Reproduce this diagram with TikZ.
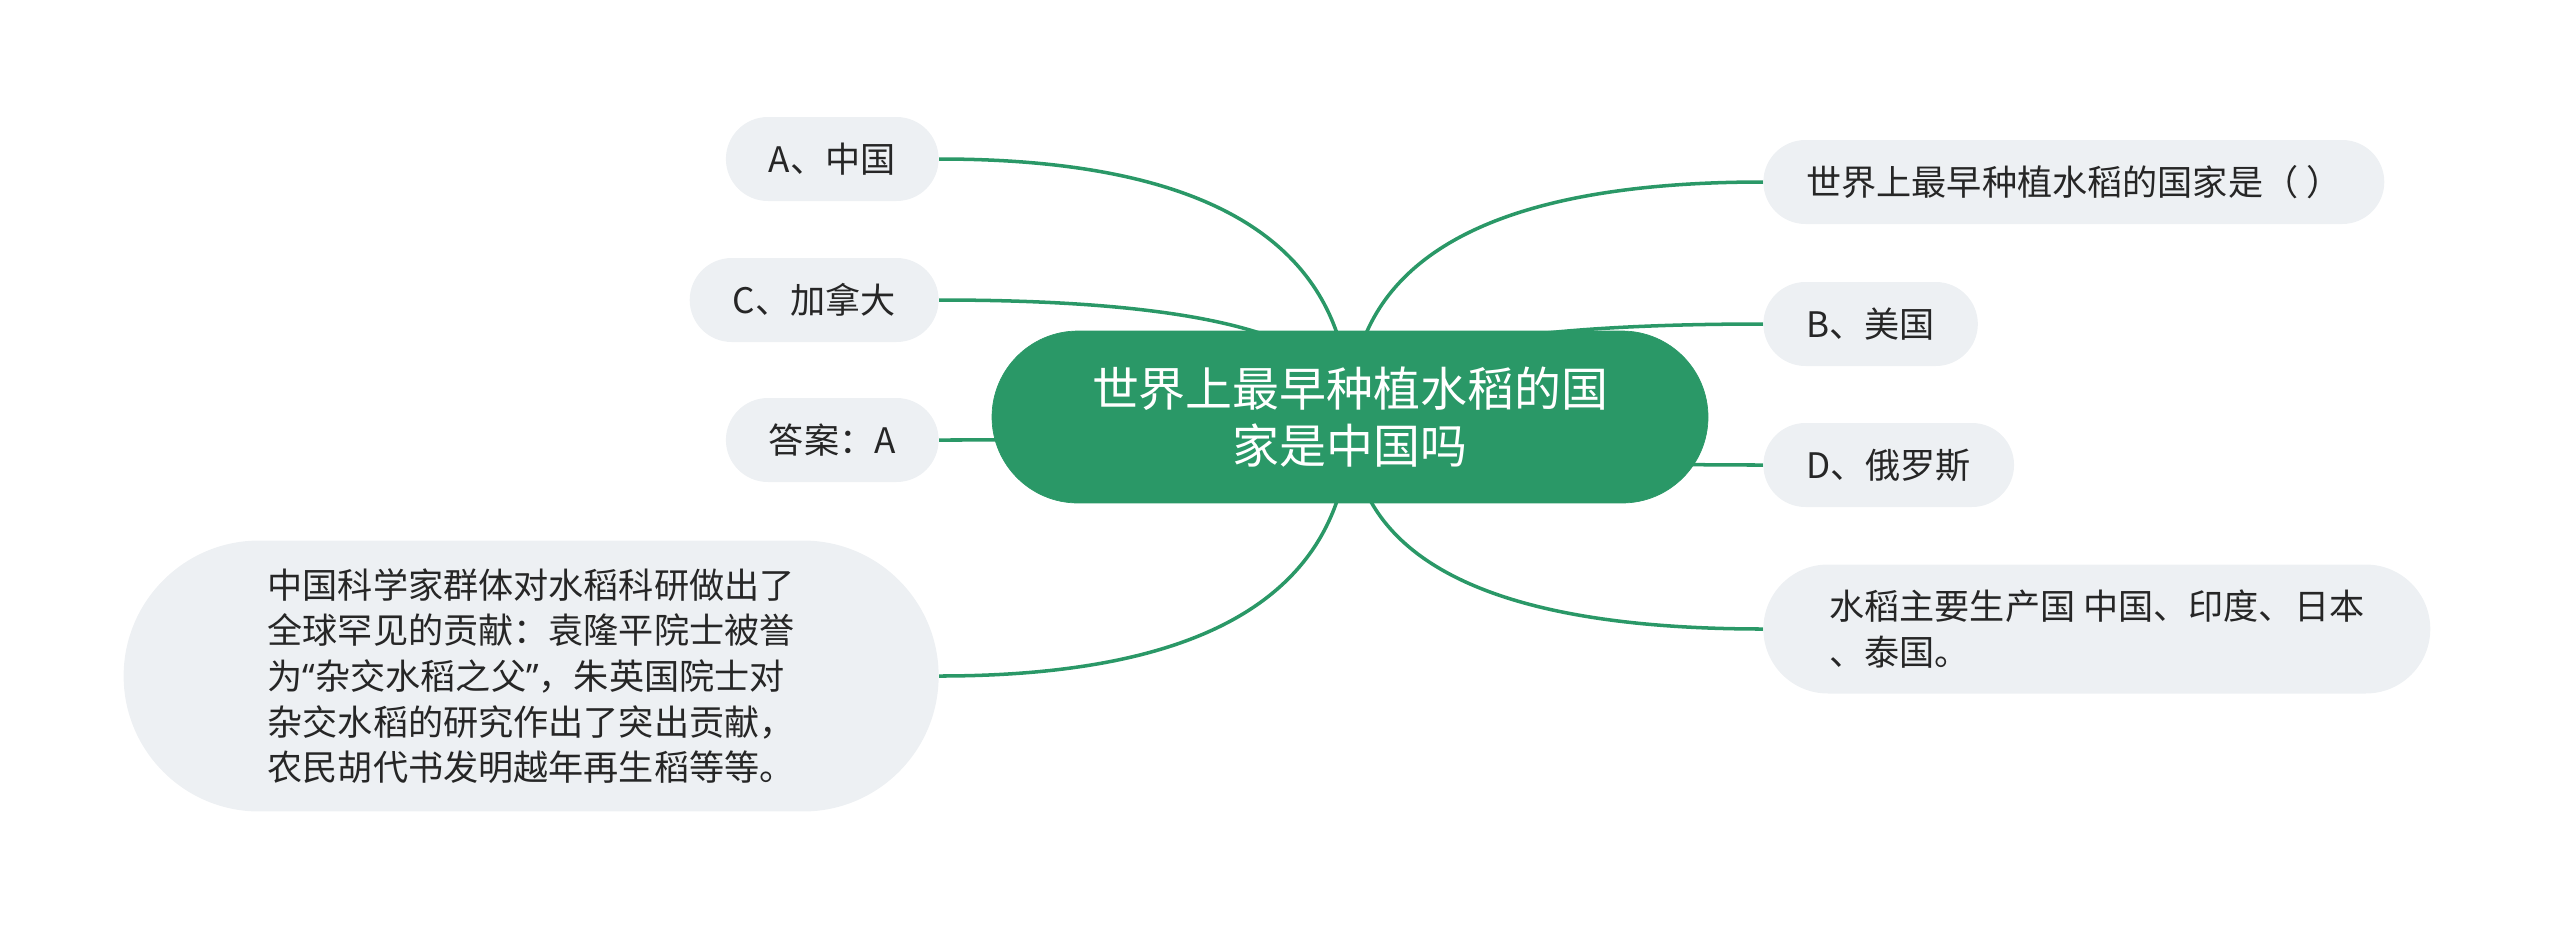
\documentclass[tikz,border=0pt]{standalone}
\usepackage{fontspec}
\newfontfamily\cjk{Noto Sans CJK SC}
\newfontfamily\quotefont{Noto Sans}
\usetikzlibrary{calc,backgrounds}
\definecolor{mapgreen}{HTML}{2A9867}
\definecolor{leafgray}{HTML}{EDF0F3}
\definecolor{inkgray}{HTML}{262626}
\tikzset{
    topic/.style={
        rectangle, fill=mapgreen, draw=mapgreen,
        text=white, align=center,
        font=\cjk\fontsize{26.7}{32.4}\selectfont,
        minimum height=3.44cm, inner xsep=2cm,
        rounded corners=1.72cm,
    },
    leaf/.style={
        rectangle, fill=leafgray,
        text=inkgray, align=left,
        font=\cjk\fontsize{20}{26}\selectfont,
        minimum height=1.68cm, inner xsep=0.86cm,
        rounded corners=0.84cm,
    },
    branch/.style={
        draw=mapgreen, line width=2pt,
        to path={.. controls ($(\tikztostart)!2/3!(\tikztotarget |- \tikztostart)$)
            and ($(\tikztotarget)!2/3!(\tikztotarget |- \tikztostart)$) .. (\tikztotarget)},
    },
}
\begin{document}
\begin{tikzpicture}[x=0.02cm,y=-0.02cm]
                \useasboundingbox (0,0) rectangle (2560,931);
                \node [topic] (root) at (1350,417) {世界上最早种植水稻的国\\家是中国吗};
                % left side
                \node [leaf, anchor=east] (ansA) at (939,159) {A、中国};
                \node [leaf, anchor=east] (ansC) at (939,300) {C、加拿大};
                \node [leaf, anchor=east] (answer) at (939,440) {答案：A};
                \node [leaf, anchor=east, minimum height=5.42cm, inner xsep=2.88cm,
                    rounded corners=2.71cm] (note) at (939,676)
                    {中国科学家群体对水稻科研做出了\\全球罕见的贡献：袁隆平院士被誉\\为{\quotefont “}杂交水稻之父{\quotefont ”}，朱英国院士对\\杂交水稻的研究作出了突出贡献，\\农民胡代书发明越年再生稻等等。};
                % right side
                \node [leaf, anchor=west] (question) at (1763,182) {世界上最早种植水稻的国家是（ ）};
                \node [leaf, anchor=west] (ansB) at (1763,324) {B、美国};
                \node [leaf, anchor=west] (ansD) at (1763,465) {D、俄罗斯};
                \node [leaf, anchor=west, minimum height=2.58cm, inner xsep=1.32cm,
                    rounded corners=1.29cm] (producer) at (1763,629)
                    {水稻主要生产国 中国、印度、日本\\、泰国。};
                \begin{scope}[on background layer]
                    \draw[branch] (ansA.east) to (root.center);
                    \draw[branch] (ansC.east) to (root.center);
                    \draw[branch] (answer.east) to (root.center);
                    \draw[branch] (note.east) to (root.center);
                    \draw[branch] (question.west) to (root.center);
                    \draw[branch] (ansB.west) to (root.center);
                    \draw[branch] (ansD.west) to (root.center);
                    \draw[branch] (producer.west) to (root.center);
                \end{scope}
            \end{tikzpicture}
\end{document}
